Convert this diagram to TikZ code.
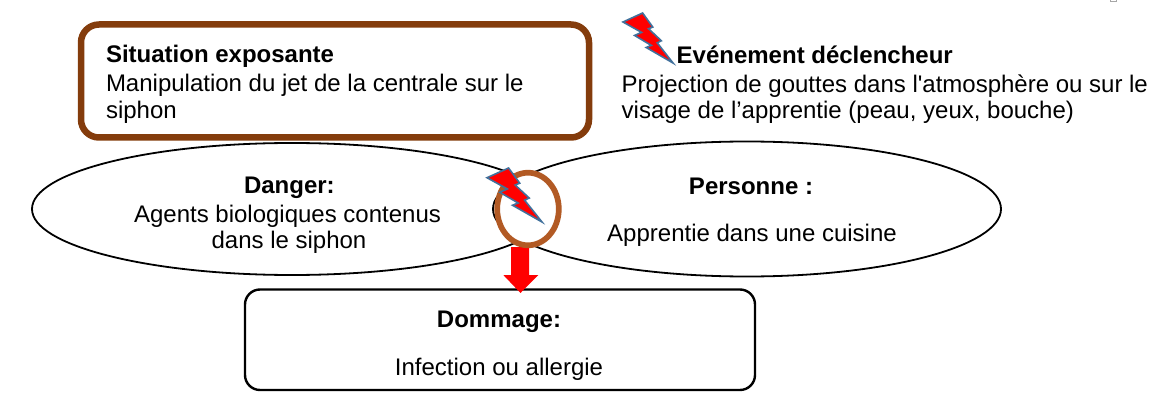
\documentclass[tikz,border=0pt]{standalone}
\usepackage{fontspec}
\newfontfamily\arial{Liberation Sans}
\usetikzlibrary{shapes.geometric}
\definecolor{sitbrown}{RGB}{132,60,12}
\definecolor{ringbrown}{RGB}{178,90,36}
\definecolor{boltedge}{RGB}{65,113,156}
\tikzset{
  txt/.style={font=\arial\fontsize{24}{28}\selectfont, inner sep=0pt, outer sep=0pt},
  btxt/.style={font=\arial\bfseries\fontsize{24}{28}\selectfont, inner sep=0pt, outer sep=0pt},
  oval/.style={ellipse, draw=black, line width=1.8pt, inner sep=0pt},
  sitbox/.style={rectangle, draw=sitbrown, line width=6.5pt, rounded corners=18pt, inner sep=0pt},
  dambox/.style={rectangle, draw=black, line width=2.4pt, rounded corners=15pt, inner sep=0pt},
  ring/.style={ellipse, draw=ringbrown, fill=white, line width=5.7pt, inner sep=0pt},
  boltshape/.style={fill=red, draw=boltedge, line width=1.6pt, line join=miter},
  blockarrow/.style={fill=red, draw=none}
}
\newcommand{\mybolt}{%
  \draw[boltshape] (0.392,0) -- (0.595,0.281) -- (0.512,0.315) -- (0.767,0.556)
    -- (0.684,0.596) -- (1,1) -- (0.464,0.690) -- (0.566,0.648) -- (0.232,0.449)
    -- (0.371,0.388) -- (0,0.180) -- cycle;}
\begin{document}
\begin{tikzpicture}[x=1pt,y=-1pt]
\useasboundingbox (0,0) rectangle (1164,401);
\fill[white] (0,0) rectangle (1164,401);

% ellipses
\node[oval, minimum width=520pt, minimum height=132pt] (danger) at (292,209) {};
\node[oval, minimum width=508pt, minimum height=135pt] (personne) at (747,209) {};

% boxes
\node[sitbox, minimum width=508pt, minimum height=113pt] (situation) at (335,81) {};
\node[dambox, minimum width=510pt, minimum height=100.5pt] (dommage) at (500,339.75) {};

% red block arrow from ring to damage box
\coordinate (arrtop) at (520,247);
\fill[blockarrow] (511,247) -- (529,247) -- (529,275) -- (538.3,275) -- (520.5,293)
  -- (503.3,275) -- (511,275) -- cycle;

% ring
\node[ring, minimum width=61.6pt, minimum height=72.6pt] (ring) at (528,209) {};

% bolts
\begin{scope}[shift={(487,168)}, x=55pt, y=-54pt]
  \mybolt
\end{scope}
\begin{scope}[shift={(623,13)}, x=50pt, y=-50pt]
  \mybolt
\end{scope}

% tiny mark top right
\draw[gray!70, line width=0.8pt] (1110.5,-3) rectangle (1116.5,1.5);

% texts
\node[btxt, anchor=base west] (sit1) at (106,62.7) {Situation exposante};
\node[txt, anchor=base west] (sit2) at (106,91.7) {Manipulation du jet de la centrale sur le};
\node[txt, anchor=base west] (sit3) at (106,118.3) {siphon};

\node[btxt, anchor=base west] (ev1) at (676.7,63.3) {Evénement déclencheur};
\node[txt, anchor=base west] (ev2) at (621.7,92.7) {Projection de gouttes dans l'atmosphère ou sur le};
\node[txt, anchor=base west] (ev3) at (621.7,118.3) {visage de l’apprentie (peau, yeux, bouche)};

\node[btxt, anchor=base] (dg1) at (289.4,193.7) {Danger:};
\node[txt, anchor=base] (dg2) at (287.5,222.3) {Agents biologiques contenus};
\node[txt, anchor=base] (dg3) at (289,248.5) {dans le siphon};

\node[btxt, anchor=base] (pe1) at (751,194.7) {Personne :};
\node[txt, anchor=base] (pe2) at (752,241.9) {Apprentie dans une cuisine};

\node[btxt, anchor=base] (dm1) at (499,327.2) {Dommage:};
\node[txt, anchor=base] (dm2) at (499,375.7) {Infection ou allergie};
\end{tikzpicture}
\end{document}
